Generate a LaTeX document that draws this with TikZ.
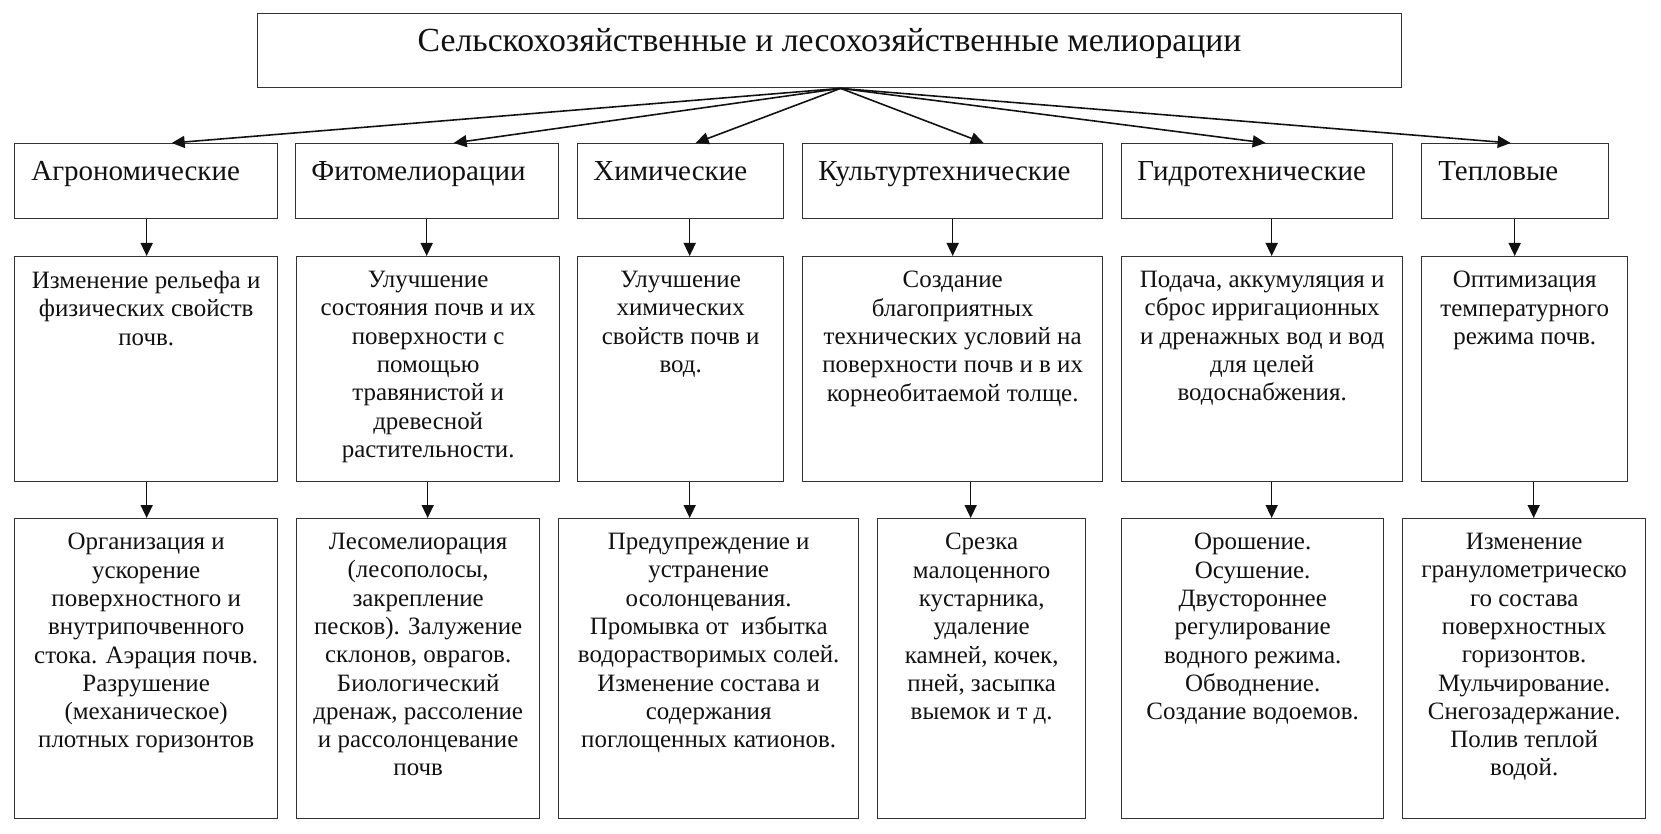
\documentclass[tikz,border=0pt]{standalone}
\usepackage{fontspec}
\setmainfont{Liberation Serif}
\usepackage{tikz}
\usetikzlibrary{calc,arrows.meta}
\definecolor{ink}{HTML}{111111}
\definecolor{frame}{HTML}{333333}
\tikzset{
  box/.style={draw=frame, line width=0.8pt, inner sep=0pt, anchor=north west},
  title/.style={text=ink, font=\fontsize{19.2}{22}\selectfont, anchor=north, inner sep=0pt},
  head/.style={text=ink, font=\fontsize{16.5}{19}\selectfont, anchor=north west, inner sep=0pt},
  body/.style={text=ink, font=\fontsize{14.2}{16.1}\selectfont, align=center, anchor=north, inner sep=0pt},
  arr/.style={draw=ink, line width=0.9pt, -{Triangle[length=2.6mm,width=2.4mm]}},
}
\begin{document}
\begin{tikzpicture}[x=0.02cm, y=-0.02cm]
  \useasboundingbox (0,0) rectangle (1661,834);

  % top box
  \node[box, minimum width=22.88cm, minimum height=1.48cm] (top) at (257,13) {};
  \node[title] (topT) at ($(top.north)+(0,15)$) {Сельскохозяйственные и лесохозяйственные мелиорации};
  \coordinate (hub) at ($(top.south)+(11,0)$);

  % kinds of melioration
  \node[box, minimum width=5.26cm, minimum height=1.5cm] (agr)  at (14,143)   {};
  \node[box, minimum width=5.26cm, minimum height=1.5cm] (fito) at (295,143)  {};
  \node[box, minimum width=4.12cm, minimum height=1.5cm] (chem) at (577,143)  {};
  \node[box, minimum width=6.00cm, minimum height=1.5cm] (kult) at (802,143)  {};
  \node[box, minimum width=5.42cm, minimum height=1.5cm] (hydr) at (1121,143) {};
  \node[box, minimum width=3.74cm, minimum height=1.5cm] (heat) at (1421,143) {};
  \node[head] (agrT)  at ($(agr.north west)+(17,18)$)  {Агрономические};
  \node[head] (fitoT) at ($(fito.north west)+(16,18)$) {Фитомелиорации};
  \node[head] (chemT) at ($(chem.north west)+(16,18)$) {Химические};
  \node[head] (kultT) at ($(kult.north west)+(16,18)$) {Культуртехнические};
  \node[head] (hydrT) at ($(hydr.north west)+(16,18)$) {Гидротехнические};
  \node[head] (heatT) at ($(heat.north west)+(17,18)$) {Тепловые};

  % aims
  \node[box, minimum width=5.26cm, minimum height=4.5cm] (agrA)  at (14,256)   {};
  \node[box, minimum width=5.26cm, minimum height=4.5cm] (fitoA) at (296,256)  {};
  \node[box, minimum width=4.12cm, minimum height=4.5cm] (chemA) at (577,256)  {};
  \node[box, minimum width=6.00cm, minimum height=4.5cm] (kultA) at (802,256)  {};
  \node[box, minimum width=5.62cm, minimum height=4.5cm] (hydrA) at (1121,256) {};
  \node[box, minimum width=4.12cm, minimum height=4.5cm] (heatA) at (1421,256) {};
  \node[body] (agrAT) at ($(agrA.north)+(0,15)$) {Изменение рельефа и\\физических свойств\\почв.};
  \node[body] (fitoAT) at ($(fitoA.north)+(0,15)$) {Улучшение\\состояния почв и их\\поверхности с\\помощью\\травянистой и\\древесной\\растительности.};
  \node[body] (chemAT) at ($(chemA.north)+(0,15)$) {Улучшение\\химических\\свойств почв и\\вод.};
  \node[body] (kultAT) at ($(kultA.north)+(0,15)$) {Создание\\благоприятных\\технических условий на\\поверхности почв и в их\\корнеобитаемой толще.};
  \node[body] (hydrAT) at ($(hydrA.north)+(0,15)$) {Подача, аккумуляция и\\сброс ирригационных\\и дренажных вод и вод\\для целей\\водоснабжения.};
  \node[body] (heatAT) at ($(heatA.north)+(0,15)$) {Оптимизация\\температурного\\режима почв.};

  % measures
  \node[box, minimum width=5.26cm, minimum height=6cm] (agrM)  at (14,518)   {};
  \node[box, minimum width=4.86cm, minimum height=6cm] (fitoM) at (296,518)  {};
  \node[box, minimum width=6.00cm, minimum height=6cm] (chemM) at (558,518)  {};
  \node[box, minimum width=4.16cm, minimum height=6cm] (kultM) at (877,518)  {};
  \node[box, minimum width=5.24cm, minimum height=6cm] (hydrM) at (1121,518) {};
  \node[box, minimum width=4.86cm, minimum height=6cm] (heatM) at (1402,518) {};
  \node[body] (agrMT) at ($(agrM.north)+(0,15)$) {Организация и\\ускорение\\поверхностного и\\внутрипочвенного\\стока. Аэрация почв.\\Разрушение\\(механическое)\\плотных горизонтов};
  \node[body] (fitoMT) at ($(fitoM.north)+(0,15)$) {Лесомелиорация\\(лесополосы,\\закрепление\\песков). Залужение\\склонов, оврагов.\\Биологический\\дренаж, рассоление\\и рассолонцевание\\почв};
  \node[body] (chemMT) at ($(chemM.north)+(0,15)$) {Предупреждение и\\устранение\\осолонцевания.\\Промывка от~ избытка\\водорастворимых солей.\\Изменение состава и\\содержания\\поглощенных катионов.};
  \node[body] (kultMT) at ($(kultM.north)+(0,15)$) {Срезка\\малоценного\\кустарника,\\удаление\\камней, кочек,\\пней, засыпка\\выемок и т д.};
  \node[body] (hydrMT) at ($(hydrM.north)+(0,15)$) {Орошение.\\Осушение.\\Двустороннее\\регулирование\\водного режима.\\Обводнение.\\Создание водоемов.};
  \node[body] (heatMT) at ($(heatM.north)+(0,15)$) {Изменение\\гранулометрическо\\го состава\\поверхностных\\горизонтов.\\Мульчирование.\\Снегозадержание.\\Полив теплой\\водой.};

  % fan from the top box
  \foreach \k/\dx in {agr/25.5, fito/26.5, chem/15, kult/31, hydr/8.5, heat/-4.5}
    \draw[arr] (hub) -- ($(\k.north)+(\dx,0)$);

  % columns
  \foreach \u/\l/\dx in {agr/agrA/0.5, fito/fitoA/-0.5, chem/chemA/9, kult/kultA/0, hydr/hydrA/14.5, heat/heatA/-0.5}
    \draw[arr] (\u.south) ++(\dx,0) coordinate (p) -- (p |- \l.north);
  \foreach \u/\l/\dx in {agrA/agrM/0.5, fitoA/fitoM/-0.5, chemA/chemM/9, kultA/kultM/18, hydrA/hydrM/9.5, heatA/heatM/9}
    \draw[arr] (\u.south) ++(\dx,0) coordinate (p) -- (p |- \l.north);
\end{tikzpicture}
\end{document}
